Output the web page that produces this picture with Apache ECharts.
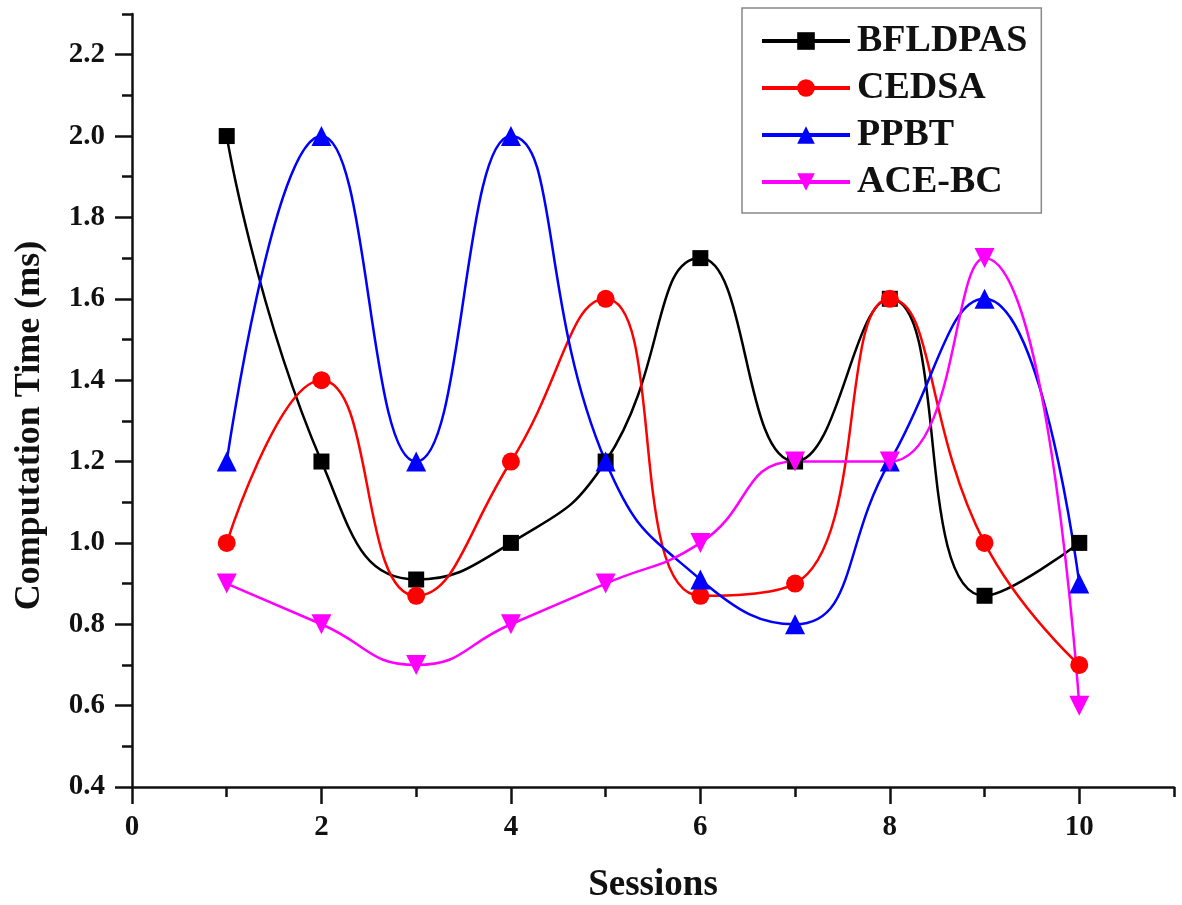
<!DOCTYPE html>
<html>
<head>
<meta charset="utf-8">
<script src="https://cdn.jsdelivr.net/npm/echarts@6/dist/echarts.min.js"></script>
<style>
  html, body { margin: 0; padding: 0; background: #fff; }
  #chart { width: 1182px; height: 905px; }
</style>
</head>
<body>
<div id="chart"></div>
<script>
// sessions 1..10
const sessions = [1, 2, 3, 4, 5, 6, 7, 8, 9, 10]
const bfldpas = [2.0, 1.2, 0.91, 1.0, 1.2, 1.7, 1.2, 1.6, 0.87, 1.0]
const cedsa = [1.0, 1.4, 0.87, 1.2, 1.6, 0.87, 0.9, 1.6, 1.0, 0.7]
const ppbt = [1.2, 2.0, 1.2, 2.0, 1.2, 0.91, 0.8, 1.2, 1.6, 0.9]
const acebc = [0.9, 0.8, 0.7, 0.8, 0.9, 1.0, 1.2, 1.2, 1.7, 0.6]

const xMajorTicks = [0, 2, 4, 6, 8, 10]
const xMinorTicks = [1, 3, 5, 7, 9, 11]
const yMajorTicks = [0.4, 0.6, 0.8, 1.0, 1.2, 1.4, 1.6, 1.8, 2.0, 2.2]
const yMinorTicks = [0.5, 0.7, 0.9, 1.1, 1.3, 1.5, 1.7, 1.9, 2.1, 2.3]

const font = 'Liberation Serif'
const pair = vals => sessions.map((s, i) => [s, vals[i]])

function makeSeries(name, vals, color, symbol, size, rotate) {
  return {
    name: name,
    type: 'line',
    data: pair(vals),
    smooth: 0.5,
    symbol: symbol,
    symbolSize: size,
    symbolRotate: rotate || 0,
    showAllSymbol: true,
    lineStyle: { color: color, width: 2.5 },
    itemStyle: { color: color },
    emphasis: { disabled: true }
  }
}

const axisText = { fontFamily: font, fontWeight: 'bold', fontSize: 29, color: '#111' }
const axisLine = { show: true, lineStyle: { color: '#111', width: 2.5 } }
const tickStyle = { color: '#111', width: 2.5 }

const option = {
  backgroundColor: '#fff',
  animation: false,
  grid: { left: 132, right: 8, top: 14, bottom: 118, outerBoundsMode: 'none' },
  legend: {
    orient: 'vertical',
    left: 742,
    top: 8,
    padding: [14, 14, 12, 18],
    itemGap: 9,
    itemWidth: 88,
    itemHeight: 22,
    borderColor: '#888',
    borderWidth: 1.5,
    lineStyle: { width: 4 },
    textStyle: { fontFamily: font, fontWeight: 'bold', fontSize: 38, color: '#111', padding: [0, 0, 0, 2] },
    data: ['BFLDPAS', 'CEDSA', 'PPBT', 'ACE-BC']
  },
  xAxis: [
    {
      type: 'value',
      min: 0,
      max: 11,
      name: 'Sessions',
      nameLocation: 'middle',
      nameGap: 80,
      nameTextStyle: { fontFamily: font, fontWeight: 'bold', fontSize: 37, color: '#111' },
      axisLine: axisLine,
      axisTick: { show: true, customValues: xMajorTicks, length: 17, lineStyle: tickStyle },
      axisLabel: { customValues: xMajorTicks, margin: 26, ...axisText },
      splitLine: { show: false }
    },
    {
      type: 'value',
      min: 0,
      max: 11,
      position: 'bottom',
      axisLine: { show: false },
      axisTick: { show: true, customValues: xMinorTicks, length: 10, lineStyle: tickStyle },
      axisLabel: { show: false },
      splitLine: { show: false }
    }
  ],
  yAxis: [
    {
      type: 'value',
      min: 0.4,
      max: 2.3,
      name: 'Computation Time (ms)',
      nameLocation: 'middle',
      nameGap: 84,
      nameRotate: 90,
      nameTextStyle: { fontFamily: font, fontWeight: 'bold', fontSize: 36, color: '#111', padding: [0, 50, 0, 0] },
      axisLine: axisLine,
      axisTick: { show: true, customValues: yMajorTicks, length: 17, lineStyle: tickStyle },
      axisLabel: { customValues: yMajorTicks, margin: 27, formatter: v => v.toFixed(1), ...axisText },
      splitLine: { show: false }
    },
    {
      type: 'value',
      min: 0.4,
      max: 2.3,
      position: 'left',
      axisLine: { show: false },
      axisTick: { show: true, customValues: yMinorTicks, length: 10, lineStyle: tickStyle },
      axisLabel: { show: false },
      splitLine: { show: false }
    }
  ],
  series: [
    makeSeries('BFLDPAS', bfldpas, '#000000', 'rect', 16),
    makeSeries('CEDSA', cedsa, '#ff0000', 'circle', 18),
    makeSeries('PPBT', ppbt, '#0000ff', 'triangle', 20),
    makeSeries('ACE-BC', acebc, '#ff00ff', 'triangle', 20, 180)
  ]
}

const chart = echarts.init(document.getElementById('chart'))
chart.setOption(option)
</script>
</body>
</html>
